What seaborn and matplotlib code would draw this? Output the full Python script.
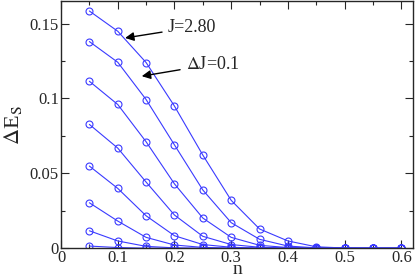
import numpy as np
import pandas as pd
import matplotlib
matplotlib.use("Agg")
import matplotlib.pyplot as plt
import seaborn as sns
from matplotlib.ticker import MultipleLocator, FuncFormatter

sns.set_style("ticks")
plt.rcParams["font.family"] = ["Liberation Serif", "DejaVu Serif"]
plt.rcParams["mathtext.fontset"] = "stix"

# Dados
n = [0.05, 0.10, 0.15, 0.20, 0.25, 0.30, 0.35, 0.40, 0.45, 0.50, 0.55, 0.60]
J = ["2.80", "2.70", "2.60", "2.50", "2.40", "2.30", "2.20", "2.10"]
dE = [
    [0.1584, 0.1449, 0.1240, 0.0949, 0.0622, 0.0320, 0.0129, 0.0049, 0.0010, 0.0002, 0.0, 0.0],
    [0.1380, 0.1242, 0.0993, 0.0690, 0.0389, 0.0171, 0.0060, 0.0015, 0.0003, 0.0, 0.0, 0.0],
    [0.1115, 0.0960, 0.0711, 0.0430, 0.0202, 0.0073, 0.0020, 0.0005, 0.0, 0.0, 0.0, 0.0],
    [0.0827, 0.0669, 0.0442, 0.0222, 0.0080, 0.0025, 0.0007, 0.0001, 0.0, 0.0, 0.0, 0.0],
    [0.0549, 0.0400, 0.0217, 0.0084, 0.0025, 0.0007, 0.0001, 0.0, 0.0, 0.0, 0.0, 0.0],
    [0.0304, 0.0182, 0.0073, 0.0022, 0.0006, 0.0001, 0.0, 0.0, 0.0, 0.0, 0.0, 0.0],
    [0.0117, 0.0049, 0.0013, 0.0003, 0.0, 0.0, 0.0, 0.0, 0.0, 0.0, 0.0, 0.0],
    [0.0015, 0.0005, 0.0001, 0.0, 0.0, 0.0, 0.0, 0.0, 0.0, 0.0, 0.0, 0.0],
]

linhas = []
for j, ys in zip(J, dE):
    for x, y in zip(n, ys):
        linhas.append({"n": x, "dE": y, "J": j})
df = pd.DataFrame(linhas)

azul = "#3a3aff"

fig = plt.figure(figsize=(4.15, 2.79), dpi=100)
ax = fig.add_axes([0.147, 0.110, 0.849, 0.886])

sns.lineplot(data=df, x="n", y="dE", hue="J", palette=[azul] * len(J),
             marker="o", markersize=5, markerfacecolor="none",
             markeredgecolor=azul, markeredgewidth=0.8, linewidth=0.8,
             legend=False, ax=ax, sort=False)

ax.set_xlim(0, 0.621)
ax.set_ylim(0, 0.165)
ax.xaxis.set_major_locator(MultipleLocator(0.1))
ax.xaxis.set_minor_locator(MultipleLocator(0.05))
ax.yaxis.set_major_locator(MultipleLocator(0.05))
ax.yaxis.set_minor_locator(MultipleLocator(0.025))
fmt = FuncFormatter(lambda v, p: "%g" % round(v, 3))
ax.xaxis.set_major_formatter(fmt)
ax.yaxis.set_major_formatter(fmt)
ax.tick_params(which="both", direction="in", top=True, right=True, labelsize=12, pad=1.5)
ax.tick_params(which="major", length=6, width=0.8)
ax.tick_params(which="minor", length=3, width=0.8)
for s in ax.spines.values():
    s.set_linewidth(1.0)

ax.set_xlabel("n", fontsize=14)
ax.xaxis.set_label_coords(0.5, -0.104)
ax.xaxis.label.set_verticalalignment("baseline")
ax.set_ylabel(r"$\Delta$E$_\mathrm{S}$", fontsize=16, labelpad=4)

ax.annotate("J=2.80", xy=(0.1129, 0.1404), xytext=(0.1887, 0.1475),
            fontsize=13, va="center", ha="left",
            arrowprops=dict(arrowstyle="-|>", color="black", lw=1, shrinkA=2, shrinkB=0))
ax.annotate(r"$\Delta$J=0.1", xy=(0.1423, 0.1149), xytext=(0.2205, 0.1229),
            fontsize=13, va="center", ha="left",
            arrowprops=dict(arrowstyle="-|>", color="black", lw=1, shrinkA=2, shrinkB=0))

fig.savefig("out.png", dpi=100)
